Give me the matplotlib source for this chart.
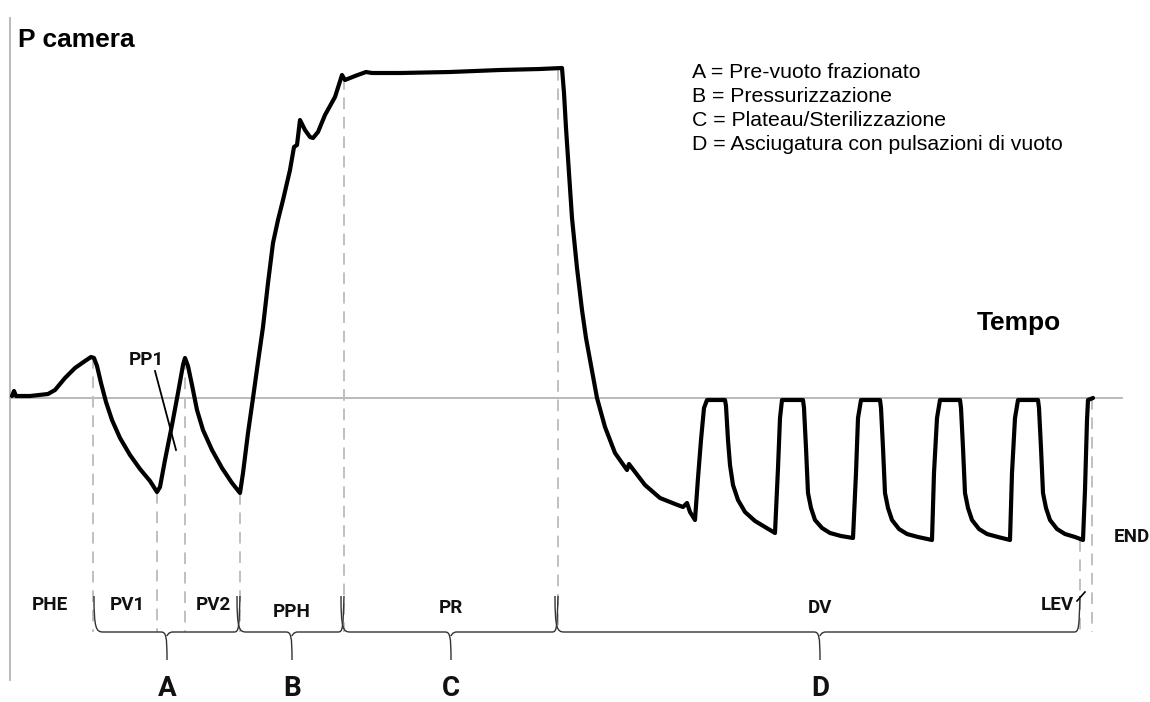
import matplotlib
matplotlib.use("Agg")
import matplotlib.pyplot as plt
from matplotlib.path import Path
from matplotlib.patches import PathPatch

# ---- data (time in arbitrary units, pressure relative to atmosphere) ----
time = [12, 14, 16, 30, 48, 55, 65, 75, 85, 91, 94,
        97, 101, 106, 112, 120, 130, 140, 150, 157,
        160, 165, 172, 178, 183, 185, 188,
        192, 197, 203, 212, 222, 232, 240,
        243, 248, 253, 258, 263, 268, 273, 278, 283, 290, 294, 297, 300, 305, 310, 313,
        318, 325, 335, 342, 345, 350, 355, 366, 372, 400, 450, 500, 540, 562,
        564, 566, 569, 572, 577, 582, 586, 590, 597, 605, 615, 627, 629, 632, 645,
        660, 675, 683, 687, 690, 695,
        698, 701, 704, 707, 725,
        726, 728, 730, 733, 738, 745, 755, 765, 775,
        778, 780, 782, 803,
        804, 806, 808, 811, 815, 822, 830, 841, 853,
        856, 858, 861, 880,
        881, 883, 885, 888, 892, 899, 907, 918, 932,
        934, 937, 940, 960,
        961, 963, 965, 968, 972, 979, 987, 998, 1010,
        1012, 1015, 1018, 1038,
        1039, 1041, 1043, 1046, 1050, 1057, 1065, 1075, 1083,
        1085, 1087, 1088, 1093]
pressure = [2, 7, 2, 2, 4, 8, 20, 30, 37, 41, 40,
            32, 15, -4, -22, -40, -57, -71, -83, -94,
            -89, -62, -27, 5, 33, 40, 32,
            13, -12, -32, -52, -70, -85, -95,
            -75, -35, 0, 36, 71, 115, 155, 178, 198, 228, 251, 253, 278, 268, 261, 260,
            266, 283, 301, 323, 318, 320, 322, 326, 325, 325, 326, 328, 329, 330,
            305, 270, 225, 180, 130, 88, 60, 38, 0, -29, -55, -72, -66, -70, -87,
            -100, -106, -109, -105, -114, -122,
            -80, -42, -10, -2, -2,
            -8, -42, -67, -87, -102, -114, -123, -129, -135,
            -70, -20, -2, -2,
            -10, -50, -95, -110, -122, -130, -135, -138, -140,
            -75, -20, -2, -2,
            -10, -50, -95, -110, -122, -131, -136, -139, -142,
            -75, -20, -2, -2,
            -10, -50, -95, -110, -122, -131, -136, -139, -142,
            -75, -20, -2, -2,
            -10, -50, -95, -110, -122, -131, -136, -139, -142,
            -92, -22, -2, 0]

# phase boundaries (time) and the pressure where each dashed marker starts
boundaries = [93, 157, 185, 240, 344, 558, 1080, 1092]
boundary_p = [41, -94, 40, -95, 320, 329, -142, 0]

phase_labels = ["PHE", "PV1", "PV2", "PPH", "PR", "DV", "LEV"]
phase_label_t = [50, 127, 213, 292, 451, 820, 1057]

groups = ["A", "B", "C", "D"]
group_span = [(97, 240), (240, 344), (344, 558), (558, 1080)]
group_tip = [167, 292, 451, 820]

legend_lines = ["A = Pre-vuoto frazionato",
                "B = Pressurizzazione",
                "C = Plateau/Sterilizzazione",
                "D = Asciugatura con pulsazioni di vuoto"]

# ---- figure ----
fig = plt.figure(figsize=(11.5, 7.02), dpi=100)
ax = fig.add_axes([0, 0, 1, 1])
ax.set_xlim(0, 1150)
ax.set_ylim(-304, 398)
ax.axis("off")

grey = "#b4b4b4"
# axes lines
ax.plot([10, 10], [380, -282], color=grey, lw=1.3, zorder=1)
ax.plot([10, 1122], [0, 0], color=grey, lw=1.3, zorder=1)

# dashed markers
brace_y = -234
for t, p in zip(boundaries, boundary_p):
    ax.plot([t, t], [p, brace_y], color="#c0c0c0", lw=1.4,
            ls=(0, (6, 4)), zorder=1)

# curve
ax.plot(time, pressure, color="black", lw=3.0, solid_joinstyle="round",
        solid_capstyle="round", zorder=3)


def brace(x0, x1, tip, y, up=36, down=28, r=6):
    verts = [(x0 - 3, y + up), (x0 - 3, y + 4), (x0 - 1, y), (x0 + r, y),
             (tip - r, y),
             (tip - 1, y), (tip, y - 4), (tip, y - down),
             (tip, y - 4), (tip, y - 4), (tip + 1, y), (tip + r, y),
             (x1 - r, y),
             (x1 - 1, y), (x1 - 1, y + 4), (x1, y + up)]
    codes = [Path.MOVETO, Path.CURVE4, Path.CURVE4, Path.CURVE4,
             Path.LINETO,
             Path.CURVE4, Path.CURVE4, Path.CURVE4,
             Path.MOVETO, Path.CURVE4, Path.CURVE4, Path.CURVE4,
             Path.LINETO,
             Path.CURVE4, Path.CURVE4, Path.CURVE4]
    ax.add_patch(PathPatch(Path(verts, codes), fill=False, ec="#333333",
                           lw=1.0, zorder=2))


for (x0, x1), tip in zip(group_span, group_tip):
    brace(x0, x1, tip, brace_y)

lab_font = dict(family=["Roboto", "DejaVu Sans"], weight="bold", color="#111111")
fs_small = 13.5
for lab, t in zip(phase_labels, phase_label_t):
    yy = -214 if lab in ("PPH",) else (-210 if lab in ("PR", "DV") else -207)
    ax.text(t, yy, lab, ha="center", va="center", fontsize=fs_small, **lab_font)
for g, t in zip(groups, group_tip):
    ax.text(t, -291, g, ha="center", va="center", fontsize=20, **lab_font)

ax.text(1132, -139, "END", ha="center", va="center", fontsize=fs_small, **lab_font)

# PP1 annotation
ax.text(146, 38, "PP1", ha="center", va="center", fontsize=fs_small, **lab_font)
ax.plot([155, 176], [27, -52], color="black", lw=1.3, zorder=4)
# LEV tick
ax.plot([1077, 1085], [-203, -194], color="black", lw=1.2, zorder=4)

# titles
ax.text(18, 358, "P camera", ha="left", va="center", fontsize=19,
        family=["Liberation Sans", "DejaVu Sans"], weight="bold")
ax.text(977, 75, "Tempo", ha="left", va="center", fontsize=19,
        family=["Liberation Sans", "DejaVu Sans"], weight="bold")

for i, line in enumerate(legend_lines):
    ax.text(692, 325 - 24 * i, line, ha="left", va="center", fontsize=15.3,
            family=["Liberation Sans", "DejaVu Sans"])

fig.savefig("out.png", dpi=100, facecolor="white")
